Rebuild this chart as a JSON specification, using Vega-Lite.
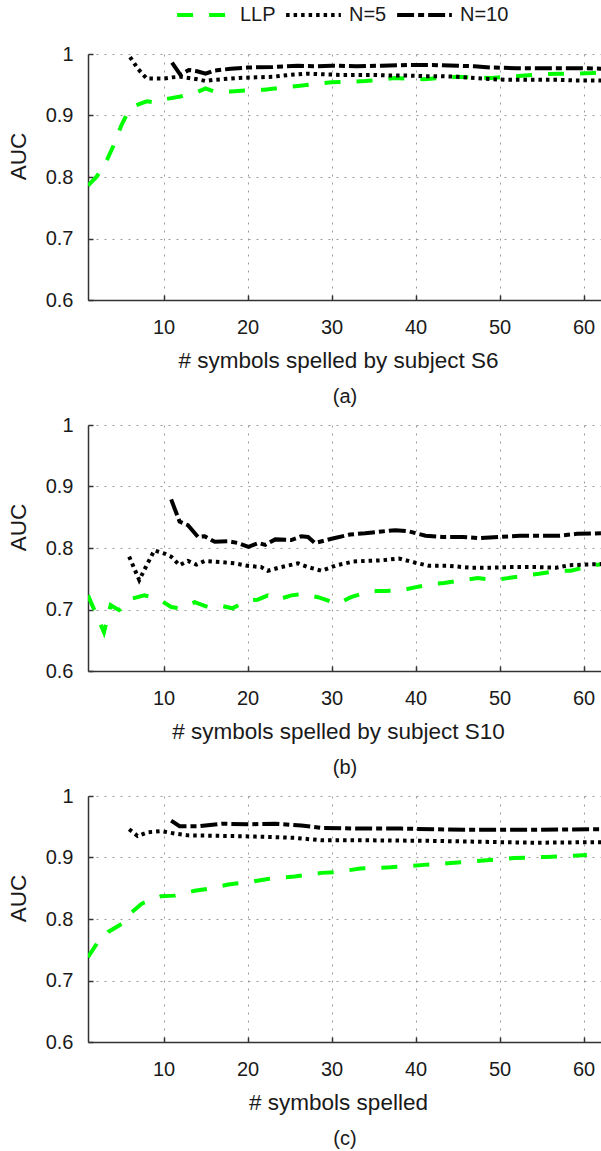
{
  "$schema": "https://vega.github.io/schema/vega-lite/v6.json",
  "autosize": {"type": "pad"},
  "padding": {"left": 7, "top": 3, "right": 0, "bottom": 0},
  "bounds": "flush",
  "spacing": 125,
  "datasets": {
    "s6": [
      {"n": 1, "auc": 0.786, "method": "LLP"}, {"n": 2, "auc": 0.8, "method": "LLP"}, {"n": 3, "auc": 0.82, "method": "LLP"},
      {"n": 4, "auc": 0.85, "method": "LLP"}, {"n": 5, "auc": 0.885, "method": "LLP"}, {"n": 6, "auc": 0.912, "method": "LLP"},
      {"n": 7, "auc": 0.918, "method": "LLP"}, {"n": 8, "auc": 0.923, "method": "LLP"}, {"n": 9, "auc": 0.921, "method": "LLP"},
      {"n": 10, "auc": 0.926, "method": "LLP"}, {"n": 12, "auc": 0.931, "method": "LLP"}, {"n": 14, "auc": 0.938, "method": "LLP"},
      {"n": 15, "auc": 0.944, "method": "LLP"}, {"n": 16, "auc": 0.939, "method": "LLP"}, {"n": 18, "auc": 0.939, "method": "LLP"},
      {"n": 20, "auc": 0.941, "method": "LLP"}, {"n": 22, "auc": 0.942, "method": "LLP"}, {"n": 24, "auc": 0.945, "method": "LLP"},
      {"n": 26, "auc": 0.948, "method": "LLP"}, {"n": 28, "auc": 0.951, "method": "LLP"}, {"n": 30, "auc": 0.954, "method": "LLP"},
      {"n": 32, "auc": 0.955, "method": "LLP"}, {"n": 34, "auc": 0.956, "method": "LLP"}, {"n": 36, "auc": 0.958, "method": "LLP"},
      {"n": 37.5, "auc": 0.961, "method": "LLP"}, {"n": 39, "auc": 0.96, "method": "LLP"}, {"n": 41, "auc": 0.959, "method": "LLP"},
      {"n": 43, "auc": 0.961, "method": "LLP"}, {"n": 45, "auc": 0.963, "method": "LLP"}, {"n": 47, "auc": 0.962, "method": "LLP"},
      {"n": 49, "auc": 0.961, "method": "LLP"}, {"n": 51, "auc": 0.963, "method": "LLP"}, {"n": 53, "auc": 0.965, "method": "LLP"},
      {"n": 55, "auc": 0.967, "method": "LLP"}, {"n": 57, "auc": 0.968, "method": "LLP"}, {"n": 59, "auc": 0.968, "method": "LLP"},
      {"n": 61, "auc": 0.969, "method": "LLP"}, {"n": 62.2, "auc": 0.97, "method": "LLP"},
      {"n": 6, "auc": 0.995, "method": "N=5"}, {"n": 7, "auc": 0.975, "method": "N=5"}, {"n": 8, "auc": 0.96, "method": "N=5"},
      {"n": 9, "auc": 0.96, "method": "N=5"}, {"n": 10, "auc": 0.96, "method": "N=5"}, {"n": 11, "auc": 0.962, "method": "N=5"},
      {"n": 12, "auc": 0.963, "method": "N=5"}, {"n": 13, "auc": 0.961, "method": "N=5"}, {"n": 14, "auc": 0.959, "method": "N=5"},
      {"n": 15, "auc": 0.956, "method": "N=5"}, {"n": 16, "auc": 0.958, "method": "N=5"}, {"n": 17, "auc": 0.959, "method": "N=5"},
      {"n": 19, "auc": 0.961, "method": "N=5"}, {"n": 21, "auc": 0.962, "method": "N=5"}, {"n": 23, "auc": 0.963, "method": "N=5"},
      {"n": 25, "auc": 0.966, "method": "N=5"}, {"n": 27, "auc": 0.968, "method": "N=5"}, {"n": 29, "auc": 0.967, "method": "N=5"},
      {"n": 31, "auc": 0.966, "method": "N=5"}, {"n": 33, "auc": 0.966, "method": "N=5"}, {"n": 35, "auc": 0.966, "method": "N=5"},
      {"n": 37, "auc": 0.965, "method": "N=5"}, {"n": 39, "auc": 0.965, "method": "N=5"}, {"n": 41, "auc": 0.964, "method": "N=5"},
      {"n": 43, "auc": 0.964, "method": "N=5"}, {"n": 45, "auc": 0.963, "method": "N=5"}, {"n": 47, "auc": 0.961, "method": "N=5"},
      {"n": 49, "auc": 0.959, "method": "N=5"}, {"n": 51, "auc": 0.958, "method": "N=5"}, {"n": 53, "auc": 0.958, "method": "N=5"},
      {"n": 55, "auc": 0.958, "method": "N=5"}, {"n": 57, "auc": 0.958, "method": "N=5"}, {"n": 59, "auc": 0.957, "method": "N=5"},
      {"n": 62.2, "auc": 0.957, "method": "N=5"},
      {"n": 11, "auc": 0.986, "method": "N=10"}, {"n": 12, "auc": 0.966, "method": "N=10"}, {"n": 13, "auc": 0.974, "method": "N=10"},
      {"n": 14, "auc": 0.972, "method": "N=10"}, {"n": 15, "auc": 0.968, "method": "N=10"}, {"n": 16, "auc": 0.973, "method": "N=10"},
      {"n": 18, "auc": 0.976, "method": "N=10"}, {"n": 20, "auc": 0.978, "method": "N=10"}, {"n": 23, "auc": 0.979, "method": "N=10"},
      {"n": 26, "auc": 0.981, "method": "N=10"}, {"n": 28, "auc": 0.98, "method": "N=10"}, {"n": 30, "auc": 0.981, "method": "N=10"},
      {"n": 33, "auc": 0.98, "method": "N=10"}, {"n": 36, "auc": 0.981, "method": "N=10"}, {"n": 39, "auc": 0.982, "method": "N=10"},
      {"n": 42, "auc": 0.982, "method": "N=10"}, {"n": 45, "auc": 0.981, "method": "N=10"}, {"n": 47, "auc": 0.98, "method": "N=10"},
      {"n": 49, "auc": 0.978, "method": "N=10"}, {"n": 52, "auc": 0.977, "method": "N=10"}, {"n": 55, "auc": 0.977, "method": "N=10"},
      {"n": 58, "auc": 0.977, "method": "N=10"}, {"n": 60, "auc": 0.977, "method": "N=10"}, {"n": 62.2, "auc": 0.976, "method": "N=10"}
    ],
    "s10": [
      {"n": 1, "auc": 0.723, "method": "LLP"}, {"n": 2.9, "auc": 0.663, "method": "LLP"}, {"n": 3.7, "auc": 0.707, "method": "LLP"},
      {"n": 4.7, "auc": 0.699, "method": "LLP"}, {"n": 6.3, "auc": 0.718, "method": "LLP"}, {"n": 7.7, "auc": 0.723, "method": "LLP"},
      {"n": 9.3, "auc": 0.718, "method": "LLP"}, {"n": 10.9, "auc": 0.704, "method": "LLP"}, {"n": 12, "auc": 0.702, "method": "LLP"},
      {"n": 13.7, "auc": 0.712, "method": "LLP"}, {"n": 15.3, "auc": 0.704, "method": "LLP"}, {"n": 16.9, "auc": 0.706, "method": "LLP"},
      {"n": 18.2, "auc": 0.702, "method": "LLP"}, {"n": 20, "auc": 0.715, "method": "LLP"}, {"n": 21.2, "auc": 0.716, "method": "LLP"},
      {"n": 22.4, "auc": 0.723, "method": "LLP"}, {"n": 23.6, "auc": 0.716, "method": "LLP"}, {"n": 25.2, "auc": 0.723, "method": "LLP"},
      {"n": 26.6, "auc": 0.725, "method": "LLP"}, {"n": 28.4, "auc": 0.72, "method": "LLP"}, {"n": 30.7, "auc": 0.709, "method": "LLP"},
      {"n": 32.3, "auc": 0.72, "method": "LLP"}, {"n": 34.7, "auc": 0.73, "method": "LLP"}, {"n": 36.3, "auc": 0.73, "method": "LLP"},
      {"n": 38.3, "auc": 0.731, "method": "LLP"}, {"n": 39.9, "auc": 0.736, "method": "LLP"}, {"n": 42.2, "auc": 0.742, "method": "LLP"},
      {"n": 43.4, "auc": 0.743, "method": "LLP"}, {"n": 45.8, "auc": 0.748, "method": "LLP"}, {"n": 47.4, "auc": 0.751, "method": "LLP"},
      {"n": 49.4, "auc": 0.748, "method": "LLP"}, {"n": 51, "auc": 0.751, "method": "LLP"}, {"n": 53.3, "auc": 0.756, "method": "LLP"},
      {"n": 54.7, "auc": 0.758, "method": "LLP"}, {"n": 56.9, "auc": 0.763, "method": "LLP"}, {"n": 58.5, "auc": 0.763, "method": "LLP"},
      {"n": 60.5, "auc": 0.77, "method": "LLP"}, {"n": 62.2, "auc": 0.774, "method": "LLP"},
      {"n": 5.9, "auc": 0.786, "method": "N=5"}, {"n": 7.1, "auc": 0.748, "method": "N=5"}, {"n": 8.1, "auc": 0.775, "method": "N=5"},
      {"n": 8.9, "auc": 0.796, "method": "N=5"}, {"n": 10.1, "auc": 0.791, "method": "N=5"}, {"n": 10.9, "auc": 0.786, "method": "N=5"},
      {"n": 11.9, "auc": 0.772, "method": "N=5"}, {"n": 12.9, "auc": 0.779, "method": "N=5"}, {"n": 13.9, "auc": 0.773, "method": "N=5"},
      {"n": 14.9, "auc": 0.779, "method": "N=5"}, {"n": 16.9, "auc": 0.777, "method": "N=5"}, {"n": 18.5, "auc": 0.775, "method": "N=5"},
      {"n": 20, "auc": 0.771, "method": "N=5"}, {"n": 21.6, "auc": 0.769, "method": "N=5"}, {"n": 22.4, "auc": 0.763, "method": "N=5"},
      {"n": 24, "auc": 0.769, "method": "N=5"}, {"n": 26, "auc": 0.775, "method": "N=5"}, {"n": 27.2, "auc": 0.769, "method": "N=5"},
      {"n": 28.8, "auc": 0.763, "method": "N=5"}, {"n": 30.6, "auc": 0.772, "method": "N=5"}, {"n": 32.6, "auc": 0.778, "method": "N=5"},
      {"n": 34, "auc": 0.779, "method": "N=5"}, {"n": 36, "auc": 0.78, "method": "N=5"}, {"n": 38, "auc": 0.783, "method": "N=5"},
      {"n": 40, "auc": 0.776, "method": "N=5"}, {"n": 41.6, "auc": 0.771, "method": "N=5"}, {"n": 44, "auc": 0.771, "method": "N=5"},
      {"n": 46.4, "auc": 0.768, "method": "N=5"}, {"n": 48.8, "auc": 0.768, "method": "N=5"}, {"n": 51.2, "auc": 0.769, "method": "N=5"},
      {"n": 54.3, "auc": 0.769, "method": "N=5"}, {"n": 56.7, "auc": 0.768, "method": "N=5"}, {"n": 58.3, "auc": 0.772, "method": "N=5"},
      {"n": 60.3, "auc": 0.773, "method": "N=5"}, {"n": 62.2, "auc": 0.774, "method": "N=5"},
      {"n": 10.9, "auc": 0.879, "method": "N=10"}, {"n": 11.9, "auc": 0.843, "method": "N=10"}, {"n": 12.9, "auc": 0.837, "method": "N=10"},
      {"n": 14.1, "auc": 0.818, "method": "N=10"}, {"n": 14.9, "auc": 0.819, "method": "N=10"}, {"n": 16.1, "auc": 0.81, "method": "N=10"},
      {"n": 17.7, "auc": 0.811, "method": "N=10"}, {"n": 18.9, "auc": 0.808, "method": "N=10"}, {"n": 20.1, "auc": 0.802, "method": "N=10"},
      {"n": 21.3, "auc": 0.808, "method": "N=10"}, {"n": 22.1, "auc": 0.805, "method": "N=10"}, {"n": 23.3, "auc": 0.814, "method": "N=10"},
      {"n": 25.2, "auc": 0.813, "method": "N=10"}, {"n": 26.4, "auc": 0.819, "method": "N=10"}, {"n": 27.2, "auc": 0.818, "method": "N=10"},
      {"n": 28, "auc": 0.808, "method": "N=10"}, {"n": 30, "auc": 0.815, "method": "N=10"}, {"n": 32.2, "auc": 0.822, "method": "N=10"},
      {"n": 34, "auc": 0.824, "method": "N=10"}, {"n": 36, "auc": 0.827, "method": "N=10"}, {"n": 37.6, "auc": 0.829, "method": "N=10"},
      {"n": 39.2, "auc": 0.827, "method": "N=10"}, {"n": 41.2, "auc": 0.82, "method": "N=10"}, {"n": 43.2, "auc": 0.818, "method": "N=10"},
      {"n": 45.6, "auc": 0.818, "method": "N=10"}, {"n": 47.6, "auc": 0.816, "method": "N=10"}, {"n": 50, "auc": 0.818, "method": "N=10"},
      {"n": 52.4, "auc": 0.82, "method": "N=10"}, {"n": 55.2, "auc": 0.82, "method": "N=10"}, {"n": 57.2, "auc": 0.82, "method": "N=10"},
      {"n": 59.2, "auc": 0.823, "method": "N=10"}, {"n": 62.2, "auc": 0.824, "method": "N=10"}
    ],
    "all": [
      {"n": 1, "auc": 0.738, "method": "LLP"}, {"n": 2.2, "auc": 0.763, "method": "LLP"}, {"n": 3.4, "auc": 0.779, "method": "LLP"},
      {"n": 5, "auc": 0.792, "method": "LLP"}, {"n": 6.2, "auc": 0.811, "method": "LLP"}, {"n": 7.4, "auc": 0.825, "method": "LLP"},
      {"n": 9.7, "auc": 0.837, "method": "LLP"}, {"n": 11.3, "auc": 0.838, "method": "LLP"}, {"n": 13.7, "auc": 0.846, "method": "LLP"},
      {"n": 15.3, "auc": 0.849, "method": "LLP"}, {"n": 17.7, "auc": 0.856, "method": "LLP"}, {"n": 20.1, "auc": 0.86, "method": "LLP"},
      {"n": 22.4, "auc": 0.865, "method": "LLP"}, {"n": 25.6, "auc": 0.869, "method": "LLP"}, {"n": 28.8, "auc": 0.875, "method": "LLP"},
      {"n": 30.4, "auc": 0.876, "method": "LLP"}, {"n": 33.4, "auc": 0.882, "method": "LLP"}, {"n": 37, "auc": 0.884, "method": "LLP"},
      {"n": 41, "auc": 0.888, "method": "LLP"}, {"n": 44.2, "auc": 0.891, "method": "LLP"}, {"n": 48.1, "auc": 0.895, "method": "LLP"},
      {"n": 51.7, "auc": 0.899, "method": "LLP"}, {"n": 55.6, "auc": 0.901, "method": "LLP"}, {"n": 60.4, "auc": 0.904, "method": "LLP"},
      {"n": 5.9, "auc": 0.946, "method": "N=5"}, {"n": 6.9, "auc": 0.935, "method": "N=5"}, {"n": 8.1, "auc": 0.941, "method": "N=5"},
      {"n": 9.7, "auc": 0.943, "method": "N=5"}, {"n": 11.3, "auc": 0.939, "method": "N=5"}, {"n": 12.9, "auc": 0.936, "method": "N=5"},
      {"n": 17.7, "auc": 0.935, "method": "N=5"}, {"n": 20.9, "auc": 0.934, "method": "N=5"}, {"n": 25.6, "auc": 0.932, "method": "N=5"},
      {"n": 28.8, "auc": 0.928, "method": "N=5"}, {"n": 34, "auc": 0.928, "method": "N=5"}, {"n": 42.2, "auc": 0.927, "method": "N=5"},
      {"n": 50, "auc": 0.925, "method": "N=5"}, {"n": 54, "auc": 0.924, "method": "N=5"}, {"n": 62.2, "auc": 0.925, "method": "N=5"},
      {"n": 10.9, "auc": 0.96, "method": "N=10"}, {"n": 11.9, "auc": 0.951, "method": "N=10"}, {"n": 14.3, "auc": 0.951, "method": "N=10"},
      {"n": 16.9, "auc": 0.955, "method": "N=10"}, {"n": 20, "auc": 0.954, "method": "N=10"}, {"n": 23.3, "auc": 0.955, "method": "N=10"},
      {"n": 26.4, "auc": 0.952, "method": "N=10"}, {"n": 28.8, "auc": 0.948, "method": "N=10"}, {"n": 33.6, "auc": 0.947, "method": "N=10"},
      {"n": 38.3, "auc": 0.947, "method": "N=10"}, {"n": 46.3, "auc": 0.945, "method": "N=10"}, {"n": 54.3, "auc": 0.945, "method": "N=10"},
      {"n": 62.2, "auc": 0.946, "method": "N=10"}
    ]
  },
  "vconcat": [
    {
      "width": 514, "height": 246,
      "data": {"name": "s6"},
      "title": {"text": "(a)"},
      "mark": {"type": "line", "clip": true, "strokeWidth": 4},
      "encoding": {
        "x": {"field": "n", "type": "quantitative", "scale": {"domain": [1, 62.2], "nice": false, "zero": false},
              "axis": {"values": [10, 20, 30, 40, 50, 60], "title": "# symbols spelled by subject S6", "titleX": 250, "titleY": 67}},
        "y": {"field": "auc", "type": "quantitative", "scale": {"domain": [0.6, 1], "nice": false, "zero": false},
              "axis": {"values": [0.6, 0.7, 0.8, 0.9, 1], "format": "~g", "title": "AUC", "titleX": -58, "titleY": 102}},
        "color": {"field": "method", "type": "nominal",
                  "scale": {"domain": ["LLP", "N=5", "N=10"], "range": ["#00ff00", "#000000", "#000000"]},
                  "legend": {"orient": "none", "legendX": 87, "legendY": -51, "direction": "horizontal", "title": null}},
        "strokeDash": {"field": "method", "type": "nominal",
                       "scale": {"domain": ["LLP", "N=5", "N=10"], "range": [[16, 16], [3.5, 4], [17, 4, 6, 4]]},
                       "legend": {"orient": "none", "legendX": 87, "legendY": -51, "direction": "horizontal", "title": null}}
      }
    },
    {
      "width": 514, "height": 246,
      "data": {"name": "s10"},
      "title": {"text": "(b)"},
      "mark": {"type": "line", "clip": true, "strokeWidth": 4},
      "encoding": {
        "x": {"field": "n", "type": "quantitative", "scale": {"domain": [1, 62.2], "nice": false, "zero": false},
              "axis": {"values": [10, 20, 30, 40, 50, 60], "title": "# symbols spelled by subject S10", "titleX": 250, "titleY": 67}},
        "y": {"field": "auc", "type": "quantitative", "scale": {"domain": [0.6, 1], "nice": false, "zero": false},
              "axis": {"values": [0.6, 0.7, 0.8, 0.9, 1], "format": "~g", "title": "AUC", "titleX": -58, "titleY": 102}},
        "color": {"field": "method", "type": "nominal",
                  "scale": {"domain": ["LLP", "N=5", "N=10"], "range": ["#00ff00", "#000000", "#000000"]},
                  "legend": {"orient": "none", "legendX": 87, "legendY": -51, "direction": "horizontal", "title": null}},
        "strokeDash": {"field": "method", "type": "nominal",
                       "scale": {"domain": ["LLP", "N=5", "N=10"], "range": [[16, 16], [3.5, 4], [17, 4, 6, 4]]},
                       "legend": {"orient": "none", "legendX": 87, "legendY": -51, "direction": "horizontal", "title": null}}
      }
    },
    {
      "width": 514, "height": 246,
      "data": {"name": "all"},
      "title": {"text": "(c)"},
      "mark": {"type": "line", "clip": true, "strokeWidth": 4},
      "encoding": {
        "x": {"field": "n", "type": "quantitative", "scale": {"domain": [1, 62.2], "nice": false, "zero": false},
              "axis": {"values": [10, 20, 30, 40, 50, 60], "title": "# symbols spelled", "titleX": 250, "titleY": 67}},
        "y": {"field": "auc", "type": "quantitative", "scale": {"domain": [0.6, 1], "nice": false, "zero": false},
              "axis": {"values": [0.6, 0.7, 0.8, 0.9, 1], "format": "~g", "title": "AUC", "titleX": -58, "titleY": 102}},
        "color": {"field": "method", "type": "nominal",
                  "scale": {"domain": ["LLP", "N=5", "N=10"], "range": ["#00ff00", "#000000", "#000000"]},
                  "legend": {"orient": "none", "legendX": 87, "legendY": -51, "direction": "horizontal", "title": null}},
        "strokeDash": {"field": "method", "type": "nominal",
                       "scale": {"domain": ["LLP", "N=5", "N=10"], "range": [[16, 16], [3.5, 4], [17, 4, 6, 4]]},
                       "legend": {"orient": "none", "legendX": 87, "legendY": -51, "direction": "horizontal", "title": null}}
      }
    }
  ],
  "config": {
    "font": "Liberation Sans",
    "view": {"stroke": null},
    "axis": {
      "domainColor": "#333333", "domainWidth": 1.5,
      "tickColor": "#333333", "tickWidth": 1.5, "tickSize": -5,
      "gridColor": "#9a9a9a", "gridDash": [2, 6], "gridWidth": 1,
      "labelFontSize": 20, "labelColor": "#1a1a1a",
      "titleFontSize": 22.5, "titleFontWeight": "normal", "titleColor": "#1a1a1a"
    },
    "axisX": {"labelPadding": 22, "titleBaseline": "alphabetic"},
    "axisY": {"labelPadding": 20},
    "title": {"orient": "bottom", "frame": "group", "fontSize": 20, "fontWeight": "normal", "color": "#1a1a1a", "offset": 15},
    "legend": {
      "symbolType": "stroke", "symbolSize": 3000, "symbolStrokeWidth": 4, "clipHeight": 24,
      "labelFontSize": 20, "labelColor": "#1a1a1a", "labelOffset": 6, "columnPadding": 8
    }
  }
}
